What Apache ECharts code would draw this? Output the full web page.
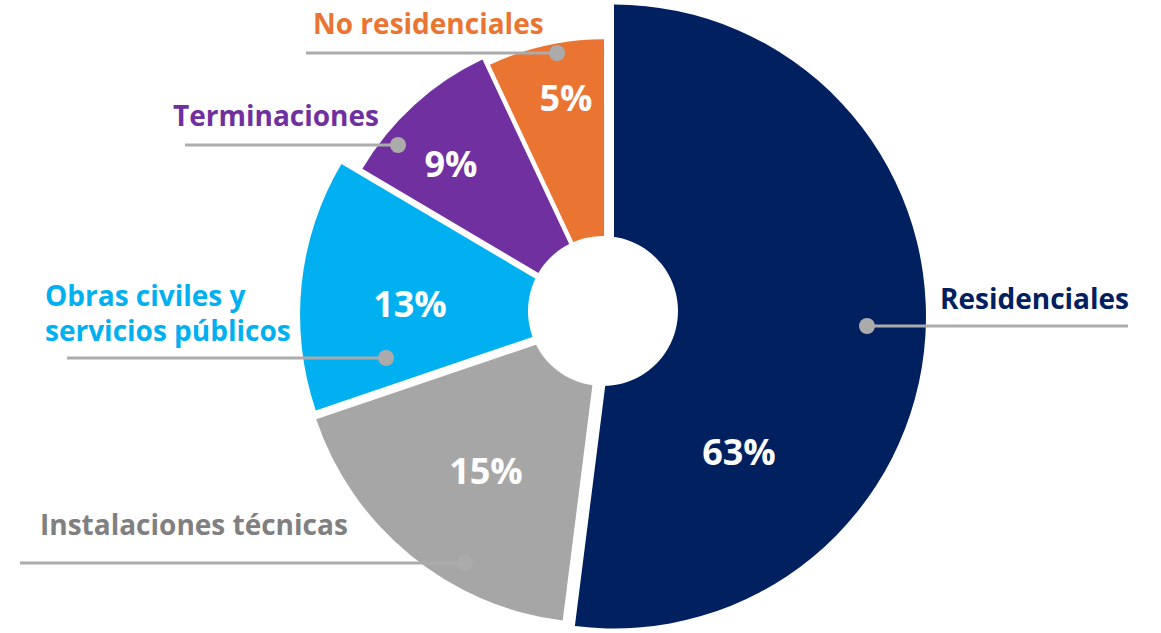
<!DOCTYPE html>
<html>
<head>
<meta charset="utf-8">
<script src="https://cdn.jsdelivr.net/npm/echarts@6/dist/echarts.min.js"></script>
<style>
html,body{margin:0;padding:0;background:#ffffff;}
#chart{width:1161px;height:633px;}
</style>
</head>
<body>
<div id="chart"></div>
<script>
// ---- data ----
const categories = ['Residenciales', 'Instalaciones técnicas', 'Obras civiles y\nservicios públicos', 'Terminaciones', 'No residenciales'];
const percentLabels = [63, 15, 13, 9, 5];          // printed percentages
const sliceShares = [52.0, 17.8, 13.7, 9.5, 7.0];  // angular share of each slice as drawn

// ---- styling / layout ----
const sliceColors = ['#002060', '#A6A6A6', '#00B0F0', '#7030A0', '#EA7432'];
const nameColors = ['#002060', '#808080', '#00B0F0', '#7030A0', '#EA7432'];
const fontFamily = '"Open Sans", Lato, "DejaVu Sans", sans-serif';
const pieCenter = [606, 316];
const sliceRadius = [312, 300, 297, 276, 268];
const sliceOffset = [8, 9, 9, 9, 9];
const holeCenter = [603, 311];
const holeRadius = 75;
const pctPos = [[739, 451], [486, 470], [410, 303], [451, 163], [566, 97]];
const nameLayout = [
  { x: 940, y: 298, dot: [867, 326], end: 1128 },
  { x: 40, y: 524, dot: [465, 563], end: 20 },
  { x: 45, y: 312, dot: [386, 358], end: 67 },
  { x: 173, y: 115, dot: [398, 145], end: 185 },
  { x: 313, y: 23, dot: [557, 53], end: 306 }
];
const leaderColor = '#ABABAB';

const chart = echarts.init(document.getElementById('chart'), null, { renderer: 'svg' });

const series = [];
// one layer per slice so each can have its own explode offset and radius
categories.forEach(function (cat, i) {
  series.push({
    type: 'pie',
    z: 2,
    center: pieCenter,
    radius: [0, sliceRadius[i]],
    startAngle: 90,
    clockwise: true,
    selectedMode: 'single',
    selectedOffset: sliceOffset[i],
    silent: true,
    emphasis: { disabled: true },
    label: { show: false },
    labelLine: { show: false },
    data: sliceShares.map(function (v, j) {
      return {
        name: categories[j],
        value: v,
        selected: j === i,
        itemStyle: { color: j === i ? sliceColors[j] : 'rgba(0,0,0,0)', borderWidth: 0 }
      };
    })
  });
});

// central hole
series.push({
  type: 'pie',
  center: holeCenter,
  radius: [0, holeRadius],
  silent: true,
  emphasis: { disabled: true },
  label: { show: false },
  labelLine: { show: false },
  data: [{ value: 1, name: 'hole', itemStyle: { color: '#ffffff' } }]
});

// percentage labels
series.push({
  type: 'pie',
  center: pieCenter,
  radius: [0, 300],
  startAngle: 90,
  clockwise: true,
  silent: true,
  avoidLabelOverlap: false,
  emphasis: { disabled: true },
  itemStyle: { color: 'rgba(0,0,0,0)' },
  label: {
    show: true,
    position: 'inside',
    formatter: function (p) { return percentLabels[p.dataIndex] + '%'; },
    color: '#ffffff',
    fontSize: 36,
    fontWeight: 'bold',
    fontFamily: fontFamily
  },
  labelLine: { show: false },
  data: sliceShares.map(function (v, j) { return { name: categories[j], value: v }; }),
  labelLayout: function (p) {
    const pos = pctPos[p.dataIndex];
    return { x: pos[0], y: pos[1], align: 'center', verticalAlign: 'middle' };
  }
});

// category name labels
series.push({
  type: 'pie',
  center: pieCenter,
  radius: [0, 300],
  startAngle: 90,
  clockwise: true,
  silent: true,
  avoidLabelOverlap: false,
  emphasis: { disabled: true },
  itemStyle: { color: 'rgba(0,0,0,0)' },
  label: {
    show: true,
    position: 'outside',
    formatter: '{b}',
    fontSize: 28,
    fontWeight: 'bold',
    fontFamily: fontFamily,
    lineHeight: 35
  },
  labelLine: { show: false },
  data: sliceShares.map(function (v, j) {
    return { name: categories[j], value: v, label: { color: nameColors[j] } };
  }),
  labelLayout: function (p) {
    const L = nameLayout[p.dataIndex];
    return { x: L.x, y: L.y, align: 'left', verticalAlign: 'middle' };
  }
});

const leaders = [];
nameLayout.forEach(function (L) {
  leaders.push({
    type: 'line', z: 100, silent: true,
    shape: { x1: L.end, y1: L.dot[1], x2: L.dot[0], y2: L.dot[1] },
    style: { stroke: leaderColor, lineWidth: 3 }
  });
  leaders.push({
    type: 'circle', z: 101, silent: true,
    shape: { cx: L.dot[0], cy: L.dot[1], r: 8 },
    style: { fill: leaderColor }
  });
});

chart.setOption({
  animation: false,
  backgroundColor: '#ffffff',
  graphic: leaders,
  series: series
});
</script>
</body>
</html>
